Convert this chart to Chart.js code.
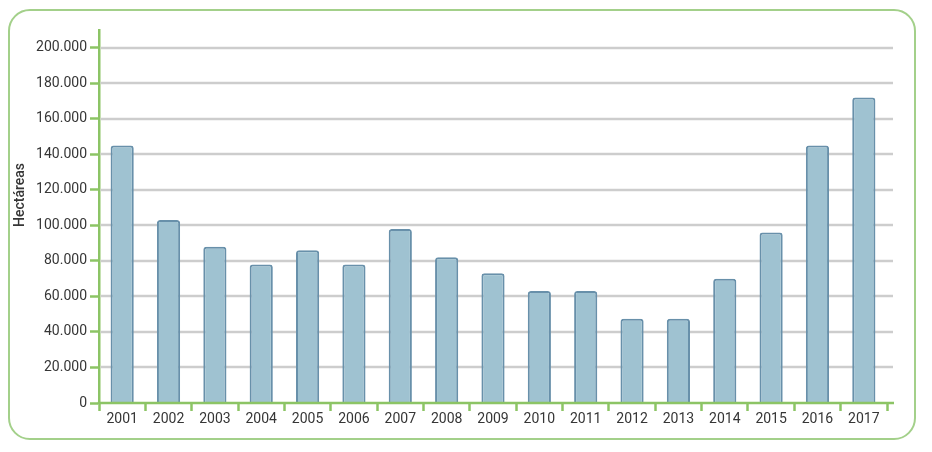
<!DOCTYPE html>
<html>
<head>
<meta charset="utf-8">
<script src="https://cdn.jsdelivr.net/npm/chart.js@4.4.1/dist/chart.umd.min.js"></script>
<style>
  html, body { margin: 0; padding: 0; background: #ffffff; }
  #wrap { position: relative; width: 932px; height: 452px; overflow: hidden; }
  #frame { position: absolute; left: 8px; top: 9px; width: 904px; height: 427px;
           border: 2px solid #a3d08a; border-radius: 22px; box-sizing: content-box; }
  canvas { position: absolute; left: 0; top: 0; }
</style>
</head>
<body>
<div id="wrap">
  <div id="frame"></div>
  <canvas id="c" width="932" height="452"></canvas>
</div>
<script>
const years = ['2001','2002','2003','2004','2005','2006','2007','2008','2009','2010','2011','2012','2013','2014','2015','2016','2017'];
const hectareas = [145000, 103000, 88000, 78000, 86000, 78000, 98000, 82000, 73000, 63000, 63000, 47500, 47500, 70000, 96000, 145000, 172000];
const yTickValues = [0, 20000, 40000, 60000, 80000, 100000, 120000, 140000, 160000, 180000, 200000];
const yTitle = 'Hectáreas';

const GREEN = '#8cc465';
const GRID = '#cdcdcd';
const TEXT = '#363636';

function fmt(v) {
  return String(v).replace(/\B(?=(\d{3})+(?!\d))/g, '.');
}

const extras = {
  id: 'extras',
  beforeDatasetsDraw(chart) {
    const ctx = chart.ctx;
    const ca = chart.chartArea;
    const y = chart.scales.y;
    ctx.save();
    ctx.strokeStyle = GRID;
    ctx.lineWidth = 2.5;
    yTickValues.forEach(v => {
      if (v === 0) return;
      const py = Math.round(y.getPixelForValue(v));
      ctx.beginPath();
      ctx.moveTo(ca.left + 1.5, py);
      ctx.lineTo(ca.right + 6, py);
      ctx.stroke();
    });
    ctx.restore();
  },
  afterDatasetsDraw(chart) {
    const ctx = chart.ctx;
    const ca = chart.chartArea;
    const y = chart.scales.y;
    ctx.save();
    ctx.strokeStyle = GREEN;
    ctx.lineWidth = 2.5;
    const py = y.getPixelForValue(0);
    ctx.beginPath();
    ctx.moveTo(ca.left - 1.2, py);
    ctx.lineTo(ca.right + 7, py);
    ctx.stroke();
    ctx.restore();
  },
  afterDraw(chart) {
    const ctx = chart.ctx;
    ctx.save();
    ctx.translate(20.5, 195);
    ctx.rotate(-Math.PI / 2);
    ctx.fillStyle = TEXT;
    ctx.font = '500 14px Roboto';
    ctx.textAlign = 'center';
    ctx.textBaseline = 'middle';
    ctx.fillText(yTitle, 0, 0);
    ctx.restore();
  }
};

new Chart(document.getElementById('c'), {
  type: 'bar',
  data: {
    labels: years,
    datasets: [{
      label: yTitle,
      data: hectareas,
      backgroundColor: '#9fc2d1',
      borderColor: '#6890aa',
      borderWidth: 2,
      borderSkipped: 'bottom',
      borderRadius: { topLeft: 3, topRight: 3, bottomLeft: 0, bottomRight: 0 },
      barPercentage: 0.5,
      categoryPercentage: 1.0
    }]
  },
  options: {
    responsive: false,
    animation: false,
    devicePixelRatio: 1,
    layout: { padding: { left: 0, right: 45, top: 30, bottom: 0 } },
    plugins: {
      legend: { display: false },
      tooltip: { enabled: false }
    },
    scales: {
      x: {
        offset: true,
        border: { display: false },
        grid: {
          display: true,
          offset: true,
          drawOnChartArea: false,
          drawTicks: true,
          tickLength: 8,
          tickColor: GREEN,
          tickWidth: 2.5
        },
        ticks: {
          color: TEXT,
          font: { family: 'Roboto', size: 14 },
          padding: 0,
          maxRotation: 0,
          autoSkip: false
        },
        afterFit(scale) { scale.height = 49; }
      },
      y: {
        min: 0,
        max: 210000,
        border: { display: true, color: GREEN, width: 2.5 },
        grid: {
          display: true,
          drawOnChartArea: false,
          drawTicks: true,
          tickLength: 9,
          tickColor: GREEN,
          tickWidth: 2.5
        },
        ticks: {
          color: TEXT,
          font: { family: 'Roboto', size: 14 },
          padding: 3,
          callback: (v) => fmt(v)
        },
        afterBuildTicks(scale) {
          scale.ticks = yTickValues.map(v => ({ value: v }));
        },
        afterFit(scale) { scale.width = 99; }
      }
    }
  },
  plugins: [extras]
});
</script>
</body>
</html>
